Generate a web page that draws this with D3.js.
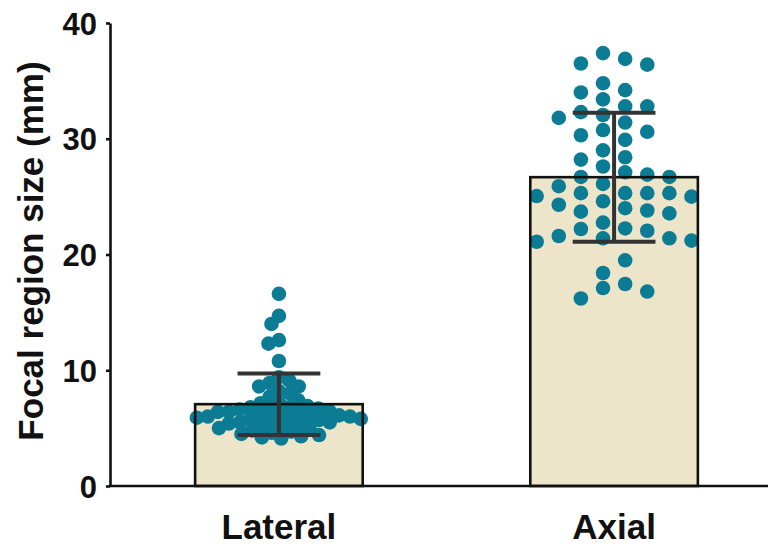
<!DOCTYPE html>
<html>
<head>
<meta charset="utf-8">
<script src="https://cdn.jsdelivr.net/npm/d3@7"></script>
<style>
  html, body { margin: 0; padding: 0; background: #fff; }
  svg { display: block; font-family: "Liberation Sans", Arial, Helvetica, sans-serif; }
</style>
</head>
<body>
<svg id="chart" width="768" height="546"></svg>
<script>
// Groups and summary statistics (mean ± SD, mm)
const categories = ["Lateral", "Axial"];
const means = [7.07, 26.68];
const sds = [2.66, 5.57];
const yTicks = [0, 10, 20, 30, 40];

// Individual measurements (mm)
const lateralValues = [
  16.6, 14.7, 14.0, 12.6, 12.3, 10.8,
  9.4, 9.1, 8.9, 8.6, 8.6, 8.2, 8.0, 7.7, 7.4, 7.2, 7.15,
  6.9, 6.8, 6.8, 6.7, 6.6, 6.6, 6.5, 6.4, 6.4, 6.3,
  6.2, 6.2, 6.1, 6.0, 6.0, 5.9, 5.9, 5.8, 5.8, 5.7,
  5.7, 5.6, 5.5, 5.5, 5.4, 5.3,
  5.2, 5.1, 5.0, 4.9, 4.8, 4.7, 4.6, 4.5, 4.4, 4.3, 4.2, 4.1
];
const axialValues = [
  37.4, 36.4, 36.5, 36.9, 34.2, 34.8, 34.0, 32.8, 32.8, 33.4, 32.05, 32.3,
  31.8, 31.4, 30.75, 30.6, 30.3, 29.9, 29.0, 28.2, 28.4, 27.6, 27.1,
  26.7, 26.9, 26.7, 26.1, 25.9, 25.0, 25.05, 25.3, 25.3, 25.3, 25.3,
  24.6, 24.3, 23.8, 24.0, 23.55, 23.7, 22.75, 22.2, 22.05, 22.25,
  21.6, 21.1, 21.2, 21.4, 21.4, 19.5, 18.4, 17.45, 16.2, 16.8, 17.1
];
const groupValues = [lateralValues, axialValues];

const svg = d3.select("#chart");
const W = 768, H = 546;
const x0 = 110, yTop = 23, yBase = 486;

const y = d3.scaleLinear().domain([0, 40]).range([yBase, yTop]);
const x = d3.scaleBand().domain(categories).range([x0, 783])
  .paddingInner(0.5).paddingOuter(0.254);

const dotColor = "#0b7c94";
const barFill = "#ece5c9";
const dotR = 7.3;

// Continuous beeswarm: each point takes the free spot nearest the centre line
function dodge(ys, d) {
  const placed = [];
  const xs = new Array(ys.length);
  const order = d3.range(ys.length).sort((a, b) => ys[a] - ys[b]);
  let flip = 1;
  for (const i of order) {
    const yy = ys[i];
    const cands = [0];
    for (const p of placed) {
      const dy = Math.abs(p.y - yy);
      if (dy < d) {
        const dx = Math.sqrt(d * d - dy * dy);
        cands.push(p.x + dx, p.x - dx);
      }
    }
    cands.sort((a, b) => Math.abs(a) - Math.abs(b) || flip * (a - b));
    for (const c of cands) {
      if (placed.every(p => (p.x - c) ** 2 + (p.y - yy) ** 2 >= d * d - 1e-6)) {
        xs[i] = c; placed.push({ x: c, y: yy }); break;
      }
    }
    flip = -flip;
  }
  return xs;
}

// Column beeswarm: points snap to fixed columns, nearest-to-centre column first
function columnSwarm(ys, slots, gap) {
  const cols = slots.map(() => []);
  const xs = new Array(ys.length);
  const order = d3.range(ys.length).sort((a, b) => ys[a] - ys[b]);
  let flip = 1;
  for (const i of order) {
    const pref = d3.range(slots.length).sort((a, b) =>
      Math.abs(slots[a]) - Math.abs(slots[b]) || flip * (slots[a] - slots[b]));
    let chosen = pref.find(k => cols[k].every(v => Math.abs(v - ys[i]) >= gap));
    if (chosen === undefined) chosen = pref[0];
    cols[chosen].push(ys[i]);
    xs[i] = slots[chosen];
    flip = -flip;
  }
  return xs;
}

const bw = x.bandwidth();

// Bars (fill)
svg.append("g").selectAll("rect").data(categories).join("rect")
  .attr("x", d => x(d)).attr("width", bw)
  .attr("y", (d, i) => y(means[i])).attr("height", (d, i) => yBase - y(means[i]))
  .attr("fill", barFill);

// Points
const slotStep = bw * 0.132;
const axialSlots = [-3.5, -2.5, -1.5, -0.5, 0.5, 1.5, 2.5, 3.5].map(k => k * slotStep);
groupValues.forEach((vals, gi) => {
  const ys = vals.map(v => y(v));
  const offs = gi === 0 ? dodge(ys, 11) : columnSwarm(ys, axialSlots, 14.5);
  const cx = x(categories[gi]) + bw / 2;
  svg.append("g").selectAll("circle").data(vals).join("circle")
    .attr("cx", (d, i) => cx + offs[i])
    .attr("cy", d => y(d))
    .attr("r", dotR)
    .attr("fill", dotColor);
});

// Bars (outline)
svg.append("g").selectAll("rect").data(categories).join("rect")
  .attr("x", d => x(d)).attr("width", bw)
  .attr("y", (d, i) => y(means[i])).attr("height", (d, i) => yBase - y(means[i]))
  .attr("fill", "none").attr("stroke", "#111").attr("stroke-width", 2.6);

// Error bars
const eg = svg.append("g").attr("stroke", "#333").attr("stroke-width", 4);
categories.forEach((c, i) => {
  const cx = x(c) + bw / 2, hw = bw * 0.247;
  eg.append("line").attr("x1", cx).attr("x2", cx)
    .attr("y1", y(means[i] + sds[i])).attr("y2", y(means[i] - sds[i]));
  eg.append("line").attr("x1", cx - hw).attr("x2", cx + hw)
    .attr("y1", y(means[i] + sds[i])).attr("y2", y(means[i] + sds[i]));
  eg.append("line").attr("x1", cx - hw).attr("x2", cx + hw)
    .attr("y1", y(means[i] - sds[i])).attr("y2", y(means[i] - sds[i]));
});

// Y axis
const yAxis = d3.axisLeft(y).tickValues(yTicks).tickSize(4).tickPadding(9).tickSizeOuter(0);
const gy = svg.append("g").attr("transform", `translate(${x0},0)`).call(yAxis);
gy.select(".domain").attr("stroke", "#111").attr("stroke-width", 2.6);
gy.selectAll(".tick line").attr("stroke", "#111").attr("stroke-width", 2.6);
gy.selectAll(".tick text").attr("fill", "#111")
  .style("font-size", "31px").style("font-weight", "bold")
  .attr("dy", "0.36em");

// X axis baseline
svg.append("line").attr("x1", x0 - 1).attr("x2", W).attr("y1", yBase).attr("y2", yBase)
  .attr("stroke", "#111").attr("stroke-width", 2.6);

// Category labels
svg.append("g").selectAll("text").data(categories).join("text")
  .attr("x", d => x(d) + bw / 2).attr("y", 539)
  .attr("text-anchor", "middle")
  .style("font-size", "35px").style("font-weight", "bold").attr("fill", "#111")
  .text(d => d);

// Y axis title
svg.append("text")
  .attr("transform", `translate(43,251) rotate(-90)`)
  .attr("text-anchor", "middle")
  .style("font-size", "35px").style("font-weight", "bold").attr("fill", "#111")
  .text("Focal region size (mm)");
</script>
</body>
</html>
